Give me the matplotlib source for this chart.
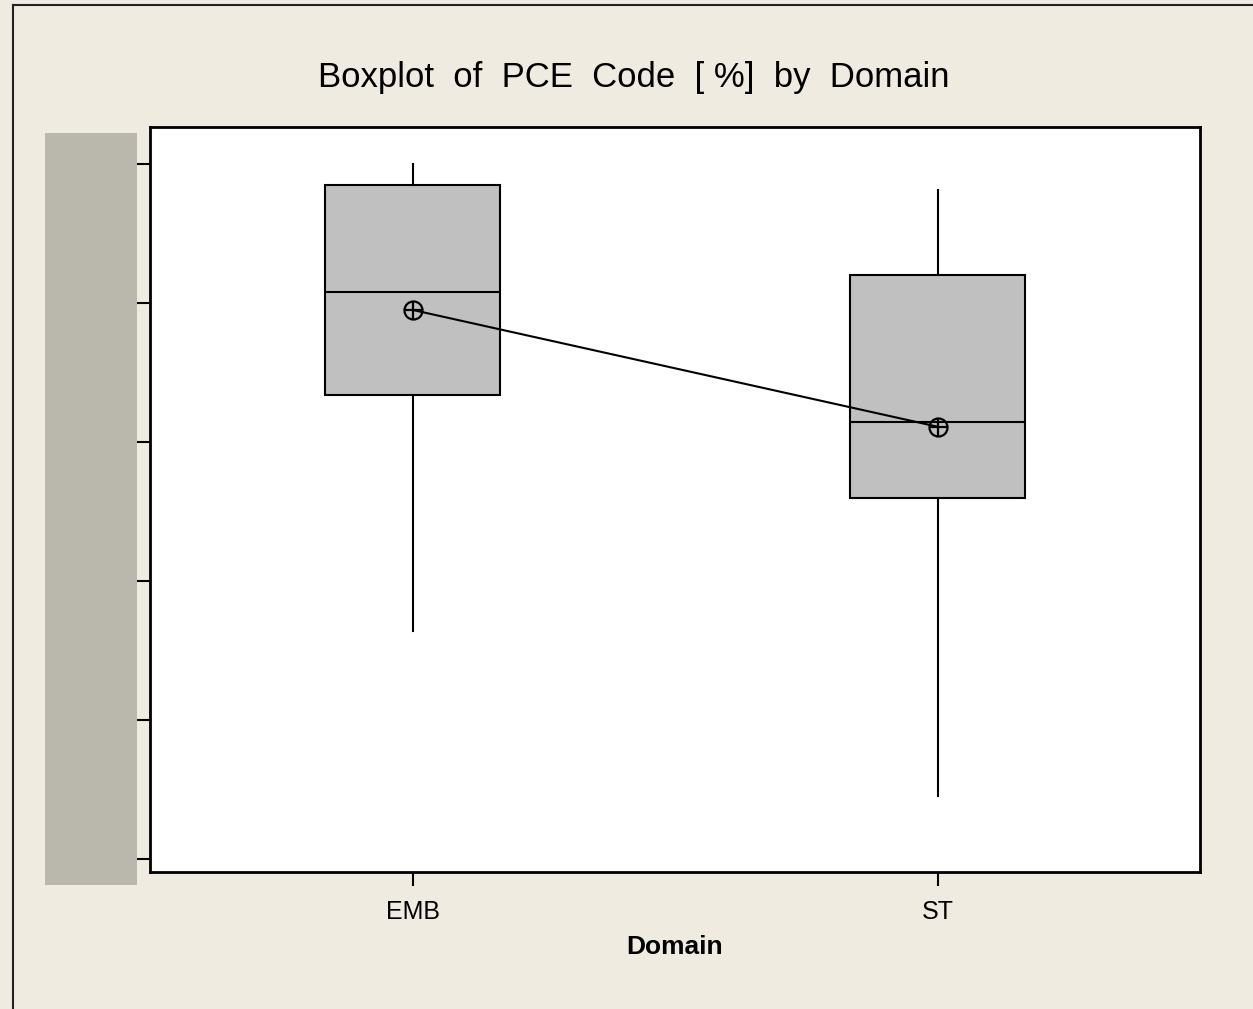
import matplotlib.pyplot as plt
from matplotlib.patches import Rectangle
from matplotlib.lines import Line2D

domains = ["EMB", "ST"]
whis_lo = [66.4, 54.5]
q1 = [83.4, 76.0]
median = [90.8, 81.4]
q3 = [98.5, 92.0]
whis_hi = [100.0, 98.1]
means = [89.5, 81.1]
y_ticks = [50, 60, 70, 80, 90, 100]

bg = "#EFEBE0"
font = "Liberation Sans"
fig = plt.figure(figsize=(12.53, 10.09), dpi=100, facecolor=bg)
ax = fig.add_axes([150 / 1253, 1 - 872 / 1009, 1050 / 1253, 745 / 1009])

stats = []
for i, d in enumerate(domains):
    stats.append(dict(label=d, whislo=whis_lo[i], q1=q1[i], med=median[i],
                      q3=q3[i], whishi=whis_hi[i], fliers=[]))
pos = list(range(1, len(domains) + 1))
ax.bxp(stats, positions=pos, widths=0.334, patch_artist=True, showcaps=False,
       boxprops=dict(facecolor="#C0C0C0", edgecolor="black", linewidth=1.5),
       medianprops=dict(color="black", linewidth=1.5),
       whiskerprops=dict(color="black", linewidth=1.5))

# mean connect line with circle-plus symbols
ax.plot(pos, means, color="black", linewidth=1.5, zorder=4)
ax.plot(pos, means, "o", mfc="none", mec="black", ms=13, mew=1.6, zorder=5)
ax.plot(pos, means, "+", color="black", ms=13, mew=1.6, zorder=5)

ax.set_xlim(0.5, 2.5)
ax.set_ylim(49.06, 102.66)
ax.set_yticks(y_ticks)
ax.set_yticklabels([])
ax.set_xticks(pos)
ax.set_xticklabels(domains, fontsize=18, family=font)
ax.tick_params(direction="out", length=10, width=1.5, color="black", pad=10)
for s in ax.spines.values():
    s.set_linewidth(2)

ax.set_xlabel("Domain", fontsize=19, family=font, fontweight="bold", labelpad=8)

fig.text(634 / 1253, 1 - 78 / 1009, "Boxplot  of  PCE  Code  [ %]  by  Domain",
         ha="center", va="center", fontsize=25, family=font)

# gray block covering the y axis labels
fig.patches.append(Rectangle((45 / 1253, 1 - 885 / 1009), 92 / 1253, 752 / 1009,
                             transform=fig.transFigure, facecolor="#BAB8AC",
                             edgecolor="none", zorder=10))

# outer frame lines (left and top)
fig.lines.append(Line2D([13 / 1253, 13 / 1253], [0, 1 - 5 / 1009],
                        transform=fig.transFigure, color="#222222", lw=1.5))
fig.lines.append(Line2D([13 / 1253, 1], [1 - 5 / 1009, 1 - 5 / 1009],
                        transform=fig.transFigure, color="#222222", lw=1.5))

fig.savefig("out.png", dpi=100, facecolor=bg)
